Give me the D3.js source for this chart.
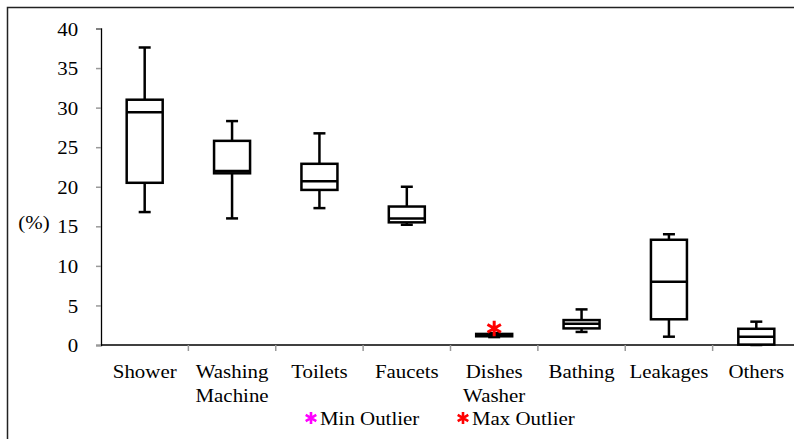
<!DOCTYPE html>
<html>
<head>
<meta charset="utf-8">
<script src="https://cdn.jsdelivr.net/npm/d3@7"></script>
<style>
  body { margin: 0; background: #fff; }
  svg text { font-family: "Liberation Serif", "DejaVu Serif", "Times New Roman", serif !important; fill: #000; }
</style>
</head>
<body>
<svg id="chart" width="794" height="439" font-family="Liberation Serif, serif"></svg>
<script>
// Data
const categories = ["Shower", "Washing Machine", "Toilets", "Faucets", "Dishes Washer", "Bathing", "Leakages", "Others"];
const labelLines = [["Shower"], ["Washing", "Machine"], ["Toilets"], ["Faucets"], ["Dishes", "Washer"], ["Bathing"], ["Leakages"], ["Others"]];
const minValues    = [16.8, 16.0, 17.3, 15.2, 1.0, 1.65, 1.05, 0.0];
const q1Values     = [20.5, 21.7, 19.6, 15.5, 1.1, 2.1, 3.25, 0.05];
const medianValues = [29.4, 22.0, 20.7, 16.0, 1.2, 2.7, 8.0, 1.05];
const q3Values     = [31.0, 25.8, 22.9, 17.5, 1.4, 3.15, 13.3, 2.05];
const maxValues    = [37.6, 28.3, 26.75, 20.0, 1.5, 4.5, 14.0, 2.95];
const maxOutliers  = [{ cat: "Dishes Washer", value: 2.1 }];
const yTicks = [0, 5, 10, 15, 20, 25, 30, 35, 40];

const svg = d3.select("#chart");
const fontSize = 19;
const stretch = 1.1; // the original text is a bit wide

// six-spoke asterisk like the spreadsheet marker
const asterisk = {
  draw(ctx, size) {
    const r = Math.sqrt(size) / 2;
    const dx = r * Math.cos(Math.PI / 6), dy = r * Math.sin(Math.PI / 6);
    ctx.moveTo(0, -r); ctx.lineTo(0, r);
    ctx.moveTo(-dx, -dy); ctx.lineTo(dx, dy);
    ctx.moveTo(-dx, dy); ctx.lineTo(dx, -dy);
  }
};

// outer frame (runs off the right/bottom edge like the original)
svg.append("rect")
  .attr("x", 7.5).attr("y", 7.5)
  .attr("width", 800).attr("height", 450)
  .attr("fill", "none").attr("stroke", "#222").attr("stroke-width", 1.5);

const x = d3.scaleBand()
  .domain(categories)
  .range([101, 800]);

const y = d3.scaleLinear()
  .domain([0, 40])
  .range([345, 28.5]);

// y axis
const yAxis = svg.append("g")
  .attr("transform", "translate(101,0)")
  .call(d3.axisLeft(y).tickValues(yTicks).tickSize(5).tickPadding(14));
yAxis.attr("font-family", null).attr("font-size", null);
yAxis.select(".domain").attr("stroke", "#000").attr("stroke-width", 1.3);
yAxis.selectAll(".tick line").attr("stroke", "#999").attr("stroke-width", 1.5);
yAxis.selectAll(".tick text")
  .attr("font-size", fontSize)
  .attr("fill", "#000")
  .attr("dy", "0.35em")
  .attr("transform", function() {
    const xx = +d3.select(this).attr("x");
    return `translate(${xx * (stretch - 1)},0) scale(${stretch},1)`;
  });

// x axis line + ticks at band edges
svg.append("line")
  .attr("x1", 101).attr("x2", 800)
  .attr("y1", 345).attr("y2", 345)
  .attr("stroke", "#000").attr("stroke-width", 1.5);

svg.selectAll(".xtick")
  .data(categories.slice(1))
  .enter()
  .append("line")
  .attr("class", "xtick")
  .attr("x1", d => x(d)).attr("x2", d => x(d))
  .attr("y1", 345).attr("y2", 351)
  .attr("stroke", "#999").attr("stroke-width", 1.5);

// category labels
const labels = svg.selectAll(".xlabel")
  .data(categories)
  .enter()
  .append("text")
  .attr("class", "xlabel")
  .attr("text-anchor", "middle")
  .attr("font-size", fontSize)
  .attr("transform", d => `translate(${x(d) + x.bandwidth() / 2},0) scale(${stretch},1)`);
labels.each(function(d, i) {
  d3.select(this).selectAll("tspan")
    .data(labelLines[i])
    .enter()
    .append("tspan")
    .attr("x", 0)
    .attr("y", (t, j) => 378 + j * 24)
    .text(t => t);
});

// y title
svg.append("text")
  .attr("transform", `translate(34,229) scale(${stretch},1)`)
  .attr("text-anchor", "middle")
  .attr("font-size", fontSize)
  .text("(%)");

// boxes
const boxW = 36, capW = 12;
const boxes = svg.selectAll(".box")
  .data(categories)
  .enter()
  .append("g")
  .attr("class", "box")
  .attr("transform", d => `translate(${x(d) + x.bandwidth() / 2},0)`)
  .attr("stroke", "#000")
  .attr("stroke-width", 2.5)
  .attr("fill", "none");

boxes.append("line")
  .attr("x1", 0).attr("x2", 0)
  .attr("y1", (d, i) => y(maxValues[i]))
  .attr("y2", (d, i) => y(q3Values[i]));
boxes.append("line")
  .attr("x1", 0).attr("x2", 0)
  .attr("y1", (d, i) => y(q1Values[i]))
  .attr("y2", (d, i) => y(minValues[i]));
boxes.append("line")
  .attr("x1", -capW / 2).attr("x2", capW / 2)
  .attr("y1", (d, i) => y(maxValues[i]))
  .attr("y2", (d, i) => y(maxValues[i]));
boxes.append("line")
  .attr("x1", -capW / 2).attr("x2", capW / 2)
  .attr("y1", (d, i) => y(minValues[i]))
  .attr("y2", (d, i) => y(minValues[i]));
boxes.append("rect")
  .attr("x", -boxW / 2)
  .attr("width", boxW)
  .attr("y", (d, i) => y(q3Values[i]))
  .attr("height", (d, i) => y(q1Values[i]) - y(q3Values[i]))
  .attr("fill", "#fff");
boxes.append("line")
  .attr("x1", -boxW / 2).attr("x2", boxW / 2)
  .attr("y1", (d, i) => y(medianValues[i]))
  .attr("y2", (d, i) => y(medianValues[i]));

// outliers
svg.selectAll(".outlier")
  .data(maxOutliers)
  .enter()
  .append("path")
  .attr("class", "outlier")
  .attr("d", d3.symbol().type(asterisk).size(240))
  .attr("transform", d => `translate(${x(d.cat) + x.bandwidth() / 2},${y(d.value)})`)
  .attr("fill", "none")
  .attr("stroke", "#ff0000")
  .attr("stroke-width", 3);

// legend
const legendItems = [
  { label: "Min Outlier", color: "#ff00ff", x: 311 },
  { label: "Max Outlier", color: "#ff0000", x: 463 }
];
const legend = svg.selectAll(".legend")
  .data(legendItems)
  .enter()
  .append("g")
  .attr("class", "legend")
  .attr("transform", d => `translate(${d.x},418)`);
legend.append("path")
  .attr("d", d3.symbol().type(asterisk).size(150))
  .attr("fill", "none")
  .attr("stroke", d => d.color)
  .attr("stroke-width", 2.6);
legend.append("text")
  .attr("transform", `translate(9,7) scale(${stretch},1)`)
  .attr("font-size", fontSize)
  .text(d => d.label);
</script>
</body>
</html>
